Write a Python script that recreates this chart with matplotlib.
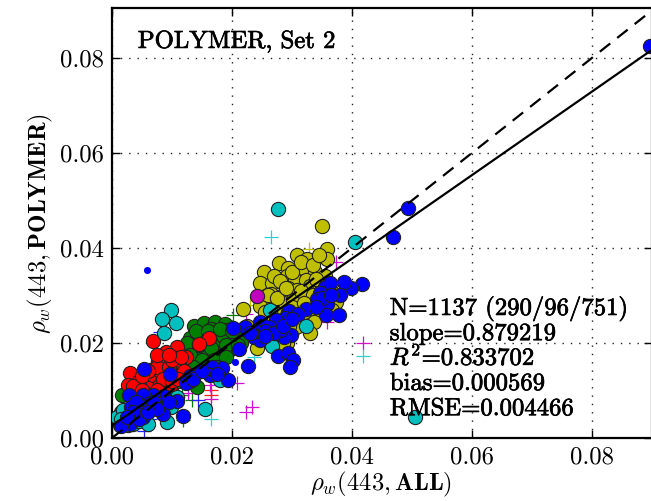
import matplotlib
matplotlib.use('Agg')
import matplotlib.pyplot as plt
import matplotlib.patheffects as pe

plt.rcParams['font.family'] = ['cmr10', 'DejaVu Sans']
plt.rcParams['mathtext.fontset'] = 'cm'
plt.rcParams['axes.formatter.use_mathtext'] = True
plt.rcParams['axes.unicode_minus'] = False

# circles, values
yellow_x = [.03495, .0358, .0308, .0325, .0358, .0278, .0294, .0319, .0254, .0339, .0291, .0355, .0247, .0266,
            .0305, .0324, .0294, .0265, .0286, .0308, .0330, .0347, .0252, .0266, .0285, .0302, .0324, .0219,
            .0338, .0308, .0336, .0374, .0366, .0247, .0313, .0277, .0294, .0269, .0291, .0241, .0266, .0285,
            .0241, .0350, .0315, .0275, .0260, .0345, .0330, .0300, .0255, .0320,
            .0270, .0280, .0300, .0315, .0335, .0345, .0260, .0275, .0290, .0315, .0335, .0300, .0255, .0270,
            .0320, .0350, .0365, .0310, .0330, .0260, .0275, .0295, .0350, .0340, .0225]
yellow_y = [.0446, .0397, .0385, .0376, .0377, .0368, .0357, .0357, .0350, .0350, .0340, .0340, .0326, .0326,
            .0333, .0333, .0315, .0303, .0303, .0312, .0319, .0305, .0284, .0280, .0284, .0291, .0298, .0271,
            .0262, .0252, .0245, .0287, .0270, .0277, .0273, .0262, .0266, .0215, .0200, .0189, .0209, .0199,
            .0213, .0280, .0250, .0240, .0255, .0325, .0280, .0225, .0235, .0265,
            .0340, .0330, .0350, .0370, .0365, .0385, .0300, .0295, .0315, .0310, .0300, .0275, .0265, .0250,
            .0285, .0300, .0310, .0235, .0220, .0210, .0225, .0235, .0320, .0335, .0235]
green_x = [.0136, .0154, .0172, .0188, .0130, .0147, .0174, .0191, .0208, .0180, .0197, .0161, .0141, .0174,
           .0127, .0124, .0202, .0141, .0147, .0016, .0015, .0020, .0160, .0185, .0135, .0165, .0120, .0215,
           .0150, .0195, .0110, .0100,
           .0125, .0140, .0160, .0180, .0200, .0145, .0165, .0190, .0210, .0130, .0150, .0170, .0190, .0120,
           .0135, .0155, .0115, .0175]
green_y = [.0236, .0242, .0245, .0240, .0210, .0217, .0220, .0228, .0213, .0199, .0206, .0178, .0164, .0178,
           .0185, .0157, .0189, .0108, .0150, .0091, .0055, .0035, .0200, .0215, .0190, .0230, .0135, .0200,
           .0175, .0185, .0120, .0095,
           .0200, .0225, .0225, .0230, .0225, .0195, .0190, .0195, .0195, .0175, .0165, .0165, .0170, .0170,
           .0150, .0140, .0145, .0150]
red_x = [.0069, .0161, .0145, .0109, .0123, .0090, .0105, .0077, .0084, .0111, .0069, .0030, .0027, .0055,
         .0071, .0105, .0136, .0097, .0041, .0088, .0062, .0093, .0080, .0115,
         .0075, .0095, .0100, .0115, .0085, .0100, .0060, .0045, .0035, .0075, .0120, .0110, .0130, .0050,
         .0060, .0075, .0095, .0050]
red_y = [.0204, .0211, .0197, .0192, .0171, .0182, .0168, .0164, .0155, .0154, .0146, .0136, .0111, .0118,
         .0116, .0133, .0133, .0108, .0101, .0095, .0130, .0160, .0140, .0125,
         .0150, .0150, .0165, .0170, .0125, .0120, .0105, .0120, .0110, .0100, .0140, .0125, .0120, .0100,
         .0140, .0175, .0175, .0130]
cyan_x = [.0098, .0084, .0107, .0086, .0266, .0324, .0263, .0155, .0091, .0027, .0013, .0008, .0019, .0022,
          .0035, .0099, .0180, .0108, .0277, .0405, .0505, .0030, .0015, .0045, .0060]
cyan_y = [.0269, .0250, .0242, .0220, .0194, .0236, .0269, .0062, .0034, .0027, .0027, .0045, .0058, .0035,
          .0030, .0066, .0122, .0087, .0481, .0413, .0045, .0045, .0040, .0035, .0030]
magenta_x = [.0241]
magenta_y = [.0299]
blue_x = [.0416, .0399, .0386, .0380, .0355, .0347, .0342, .0363, .0358, .0378, .0356, .0323, .0295, .0288,
          .0274, .0262, .0247, .0222, .0201, .0299, .0286, .0280, .0236, .0247, .0212, .0276, .0294, .0301,
          .0296, .0226, .0194, .0184, .0166, .0163, .0130, .0123, .0096, .0054, .0086, .0068, .0052, .0029,
          .0109, .0063, .0047, .0031, .0085, .0119, .0052, .0030, .0045, .0468, .0493, .0897,
          .0068, .0075, .0095, .0040, .0060, .0035, .0135, .0150, .0175, .0240, .0255, .0270,
          .0255, .0285, .0310, .0300, .0230, .0350, .0365, .0340, .0015, .0025]
blue_y = [.0324, .0315, .0329, .0301, .0317, .0305, .0293, .0326, .0283, .0258, .0258, .0271, .0267, .0252,
          .0248, .0233, .0245, .0233, .0231, .0217, .0213, .0227, .0213, .0206, .0188, .0173, .0178, .0165,
          .0150, .0152, .0123, .0147, .0149, .0133, .0131, .0115, .0134, .0145, .0088, .0091, .0091, .0091,
          .0077, .0073, .0061, .0065, .0050, .0046, .0045, .0030, .0040, .0424, .0484, .0825,
          .0075, .0060, .0075, .0075, .0055, .0055, .0125, .0140, .0135, .0225, .0225, .0220,
          .0215, .0235, .0260, .0250, .0220, .0295, .0300, .0275, .0025, .0045]
small_blue_x = [.0059, .0205]
small_blue_y = [.0354, .0159]

# plus signs
plus_magenta_x = [.0418, .0373, .0223, .0233, .0224, .0209, .0165, .0126, .0163, .0297, .0358]
plus_magenta_y = [.0200, .0371, .0260, .0066, .0054, .0115, .0083, .0094, .0111, .0234, .0245]
plus_cyan_x = [.0419, .0165, .0236, .0265]
plus_cyan_y = [.0173, .0041, .0171, .0423]
plus_red_x = [.0165, .0165, .0022]
plus_red_y = [.0101, .0091, .0031]
plus_green_x = [.0201, .0119, .0116, .0133]
plus_green_y = [.0259, .0037, .0091, .0080]
plus_blue_x = [.0054, .0169, .0144, .0080, .0083, .0063]
plus_blue_y = [.0014, .0233, .0080, .0224, .0070, .0041]
plus_yellow_x = [.0329, .0230]
plus_yellow_y = [.0398, .0280]

# fit and 1:1 lines
line_x = [0.0, 0.09]
fit_y = [0.0026, 0.0817]

stats = ['N=1137 (290/96/751)', 'slope=0.879219', r'$R^2$=0.833702', 'bias=0.000569', 'RMSE=0.004466']
stats_y = [.0259, .0206, .0154, .0101, .0048]
ticks = [0.0, 0.02, 0.04, 0.06, 0.08]

fig = plt.figure(figsize=(6.51, 5.01), dpi=100)
ax = fig.add_axes([112 / 651, 1 - 438 / 501, 540 / 651, 430 / 501])

ax.plot(plus_yellow_x, plus_yellow_y, '+', color='#bfbf00', ms=10, mew=0.9)
ax.plot(plus_green_x, plus_green_y, '+', color='#007f00', ms=10, mew=0.9)
ax.plot(plus_red_x, plus_red_y, '+', color='#ff2020', ms=10, mew=0.9)
ax.plot(plus_magenta_x, plus_magenta_y, '+', color='#d010d0', ms=10, mew=0.9)
ax.plot(plus_cyan_x, plus_cyan_y, '+', color='#30d0d0', ms=10, mew=0.9)
ax.plot(plus_blue_x, plus_blue_y, '+', color='#2020ff', ms=10, mew=0.9)

ec = '#222222'
ax.scatter(yellow_x, yellow_y, s=105, c='#bfbf00', edgecolors=ec, linewidths=0.8, zorder=3)
ax.scatter(green_x, green_y, s=105, c='#007f00', edgecolors=ec, linewidths=0.8, zorder=3)
ax.scatter(red_x, red_y, s=105, c='#ff0000', edgecolors=ec, linewidths=0.8, zorder=3)
ax.scatter(cyan_x, cyan_y, s=105, c='#00bfbf', edgecolors=ec, linewidths=0.8, zorder=3)
ax.scatter(magenta_x, magenta_y, s=105, c='#bf00bf', edgecolors=ec, linewidths=0.8, zorder=3)
ax.scatter(blue_x, blue_y, s=105, c='#0000ff', edgecolors=ec, linewidths=0.8, zorder=3)
ax.scatter(small_blue_x, small_blue_y, s=26, c='#0000ff', linewidths=0, zorder=3)

ax.plot(line_x, fit_y, '-', color='k', lw=1.6, zorder=4)
ax.plot(line_x, line_x, '--', color='k', lw=1.6, dashes=(6, 4), zorder=4)

ax.set_xlim(0, 0.09)
ax.set_ylim(0, 0.0905)
ax.set_xticks(ticks)
ax.set_yticks(ticks)
ax.set_xticklabels(['%.2f' % t for t in ticks], fontsize=17.8)
ax.set_yticklabels(['%.2f' % t for t in ticks], fontsize=17.8)
ax.tick_params(direction='in', length=6, width=1, pad=6, top=True, right=True)
ax.grid(True, color='#222222', ls=(0, (1, 5)), lw=1)
ax.set_axisbelow(True)
for s in ax.spines.values():
    s.set_linewidth(1.6)

thick = [pe.withStroke(linewidth=0.5, foreground='k')]
ax.text(.0043, .0821, 'POLYMER, Set 2', fontsize=17.8, zorder=5, path_effects=thick)
for t, y in zip(stats, stats_y):
    ax.text(.0463, y, t, fontsize=17.8, zorder=5, path_effects=thick)

fig.text(381 / 651, 1 - 490 / 501, r'$\rho_w(443, \mathbf{ALL})$', fontsize=17.8, ha='center', va='baseline')
fig.text(40 / 651, 1 - 223 / 501, r'$\rho_w(443, \mathbf{POLYMER})$', fontsize=17.8, ha='center', va='center',
         rotation=90)

fig.savefig('out.png', dpi=100)
